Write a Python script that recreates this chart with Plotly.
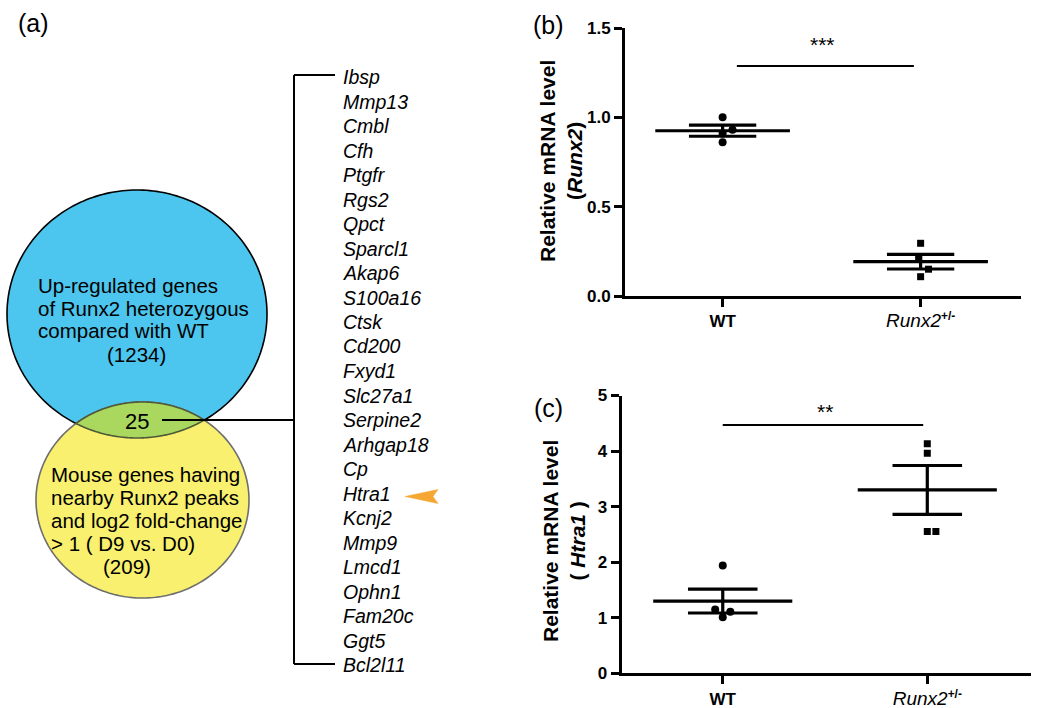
import numpy as np
import plotly.graph_objects as go

W, H = 1050, 708
FONT = "Liberation Sans, Arial, sans-serif"

# ---------------- data ----------------
groups = ["WT", "Runx2+/-"]
group_ticktext = ["<b>WT</b>",
                  "<i><span style='font-size:19px'>Runx2</span></i><sup><b>+/-</b></sup>"]

# panel (b): Runx2 relative mRNA
b_wt = [1.00, 0.93, 0.91, 0.86]
b_ko = [0.295, 0.205, 0.150, 0.108]
b_mean = [0.925, 0.192]
b_sem = [0.031, 0.041]
b_ticks = [0.0, 0.5, 1.0, 1.5]
b_ticktext = ["0.0", "0.5", "1.0", "1.5"]
b_sig_level = 1.288
b_sig_text = "***"

# panel (c): Htra1 relative mRNA
c_wt = [1.94, 1.15, 1.11, 1.01]
c_ko = [4.13, 3.96, 2.55, 2.55]
c_mean = [1.30, 3.30]
c_sem = [0.215, 0.44]
c_ticks = [0, 1, 2, 3, 4, 5]
c_ticktext = ["0", "1", "2", "3", "4", "5"]
c_sig_level = 4.47
c_sig_text = "**"

# panel (a): Venn + gene list
venn_blue_text = ["Up-regulated genes", "of Runx2 heterozygous", "compared with WT"]
venn_blue_count = "(1234)"
venn_yellow_text = ["Mouse genes having", "nearby Runx2 peaks", "and log2 fold-change", "> 1 ( D9 vs. D0)"]
venn_yellow_count = "(209)"
venn_overlap = "25"
genes = ["Ibsp", "Mmp13", "Cmbl", "Cfh", "Ptgfr", "Rgs2", "Qpct", "Sparcl1", "Akap6",
         "S100a16", "Ctsk", "Cd200", "Fxyd1", "Slc27a1", "Serpine2", "Arhgap18", "Cp",
         "Htra1", "Kcnj2", "Mmp9", "Lmcd1", "Ophn1", "Fam20c", "Ggt5", "Bcl2l11"]
highlight_gene = "Htra1"

# point jitter (x offsets in group units)
b_wt_off = [0.0, 0.05, 0.0, 0.0]
b_ko_off = [0.0, -0.01, 0.04, 0.0]
c_wt_off = [0.0, -0.037, 0.037, 0.0]
c_ko_off = [0.0, 0.0, 0.0, 0.042]

# ---------------- helpers ----------------
def px(x):
    return x / W

def py(y):
    return 1 - y / H

fig = go.Figure()

MEAN_HW = 0.34
SEM_HW = 0.17


def add_panel(xa, ya, wt, ko, wt_off, ko_off, mean, sem):
    xs = [1 + o for o in wt_off]
    fig.add_trace(go.Scatter(x=xs, y=wt, mode="markers", xaxis=xa, yaxis=ya,
                             marker=dict(symbol="circle", size=8, color="black"),
                             showlegend=False, hoverinfo="skip"))
    xs = [2 + o for o in ko_off]
    fig.add_trace(go.Scatter(x=xs, y=ko, mode="markers", xaxis=xa, yaxis=ya,
                             marker=dict(symbol="square", size=7, color="black"),
                             showlegend=False, hoverinfo="skip"))
    lx, ly = [], []
    for i, (m, s) in enumerate(zip(mean, sem)):
        g = i + 1
        lx += [g - MEAN_HW, g + MEAN_HW, None, g - SEM_HW, g + SEM_HW, None,
               g - SEM_HW, g + SEM_HW, None, g, g, None]
        ly += [m, m, None, m + s, m + s, None, m - s, m - s, None, m - s, m + s, None]
    fig.add_trace(go.Scatter(x=lx, y=ly, mode="lines", xaxis=xa, yaxis=ya,
                             line=dict(color="black", width=3.2),
                             showlegend=False, hoverinfo="skip"))


add_panel("x", "y", b_wt, b_ko, b_wt_off, b_ko_off, b_mean, b_sem)
add_panel("x2", "y2", c_wt, c_ko, c_wt_off, c_ko_off, c_mean, c_sem)

# significance bars
fig.add_trace(go.Scatter(x=[1.072, 1.966], y=[b_sig_level, b_sig_level], mode="lines",
                         xaxis="x", yaxis="y", line=dict(color="black", width=2),
                         showlegend=False, hoverinfo="skip"))
fig.add_trace(go.Scatter(x=[1.0, 1.98], y=[c_sig_level, c_sig_level], mode="lines",
                         xaxis="x2", yaxis="y2", line=dict(color="black", width=2),
                         showlegend=False, hoverinfo="skip"))

axis_common = dict(showline=True, linewidth=3, linecolor="black", ticks="outside",
                   ticklen=8, tickwidth=3, tickcolor="black", showgrid=False,
                   zeroline=False, fixedrange=True, automargin=False)

tickfont = dict(family=FONT, size=17, color="black")

fig.update_layout(
    width=W, height=H, margin=dict(l=0, r=0, t=0, b=0, autoexpand=False),
    paper_bgcolor="white", plot_bgcolor="white", showlegend=False,
    xaxis=dict(domain=[px(625), px(1021)], range=[0.507, 2.507], anchor="y",
               tickvals=[1, 2], ticktext=group_ticktext, tickfont=tickfont, **axis_common),
    yaxis=dict(domain=[py(296), py(28)], range=[0, 1.5], anchor="x",
               tickvals=b_ticks, ticktext=["<b>%s</b>" % t for t in b_ticktext],
               tickfont=tickfont, **axis_common),
    xaxis2=dict(domain=[px(621.7), px(1031)], range=[0.506, 2.507], anchor="y2",
                tickvals=[1, 2], ticktext=group_ticktext, tickfont=tickfont, **axis_common),
    yaxis2=dict(domain=[py(673.3), py(395.5)], range=[0, 5], anchor="x2",
                tickvals=c_ticks, ticktext=["<b>%s</b>" % t for t in c_ticktext],
                tickfont=tickfont, **axis_common),
)

ann = []


def note(x, y, text, size, xanchor="center", **kw):
    ann.append(dict(x=px(x), y=py(y), xref="paper", yref="paper", text=text,
                    showarrow=False, xanchor=xanchor, yanchor="middle",
                    font=dict(family=FONT, size=size, color="black"), **kw))


# significance stars
ann.append(dict(x=1.506, y=1.405, xref="x", yref="y", text=b_sig_text, showarrow=False,
                xanchor="center", yanchor="middle",
                font=dict(family=FONT, size=21, color="black")))
ann.append(dict(x=1.50, y=4.71, xref="x2", yref="y2", text=c_sig_text, showarrow=False,
                xanchor="center", yanchor="middle",
                font=dict(family=FONT, size=21, color="black")))

# y titles
note(561, 161, "<b>Relative mRNA level</b><br><b>(<i>Runx2</i>)</b>", 21, textangle=-90)
note(564, 541, "<b>Relative mRNA level</b><br><b>( <i>Htra1</i> )</b>", 21, textangle=-90)

# panel labels
for lab, x, y in [("(a)", 33, 23), ("(b)", 548, 25), ("(c)", 548, 408)]:
    note(x, y, lab, 25)

# Venn texts
for i, t in enumerate(venn_blue_text):
    note(36, 285 + i * 23, t, 20.5, xanchor="left")
note(136, 354, venn_blue_count, 20.5)
for i, t in enumerate(venn_yellow_text):
    note(49, 474 + i * 23, t, 20.5, xanchor="left")
note(127, 566, venn_yellow_count, 20.5)
note(137, 421, venn_overlap, 22)

# gene list
G0, GSTEP = 77.0, 24.5
for i, g in enumerate(genes):
    note(341, G0 + i * GSTEP, "<i>%s</i>" % g, 19.5, xanchor="left")

fig.update_layout(annotations=ann)

# ---------------- shapes (Venn, bracket, arrow) ----------------
BC, BR = (137.0, 314.0), (130.0, 124.0)
YC, YR = (142.5, 500.0), (106.5, 98.0)

shapes = []


def to_path(pts):
    return "M " + " L ".join("%.5f,%.5f" % (px(x), py(y)) for x, y in pts) + " Z"


def ellipse_pts(c, r, t0=0.0, t1=2 * np.pi, n=240):
    th = np.linspace(t0, t1, n)
    return [(c[0] + r[0] * np.cos(t), c[1] + r[1] * np.sin(t)) for t in th]


shapes.append(dict(type="path", xref="paper", yref="paper", path=to_path(ellipse_pts(BC, BR)),
                   fillcolor="#4CC6EE", line=dict(color="black", width=1.6)))
shapes.append(dict(type="path", xref="paper", yref="paper", path=to_path(ellipse_pts(YC, YR)),
                   fillcolor="#F8F06E", line=dict(color="#6E6E6E", width=1.6)))


def inside(pt, c, r):
    return ((pt[0] - c[0]) / r[0]) ** 2 + ((pt[1] - c[1]) / r[1]) ** 2 <= 1.0


blue_arc = [p for p in ellipse_pts(BC, BR, 0, np.pi, 400) if inside(p, YC, YR)]
yel_arc = [p for p in ellipse_pts(YC, YR, np.pi, 2 * np.pi, 400) if inside(p, BC, BR)]
shapes.append(dict(type="path", xref="paper", yref="paper", path=to_path(blue_arc + yel_arc),
                   fillcolor="#AAD75E", line=dict(color="#4F5A3A", width=1.6)))

# connector from overlap to bracket
line_k = dict(color="black", width=2)
shapes.append(dict(type="line", xref="paper", yref="paper", x0=px(162), x1=px(294),
                   y0=py(420), y1=py(420), line=line_k))
gy_top = G0 - 2
gy_bot = G0 + (len(genes) - 1) * GSTEP - 1
shapes.append(dict(type="line", xref="paper", yref="paper", x0=px(294), x1=px(294),
                   y0=py(gy_top), y1=py(gy_bot), line=line_k))
shapes.append(dict(type="line", xref="paper", yref="paper", x0=px(294), x1=px(335),
                   y0=py(gy_top), y1=py(gy_top), line=line_k))
shapes.append(dict(type="line", xref="paper", yref="paper", x0=px(294), x1=px(335),
                   y0=py(gy_bot), y1=py(gy_bot), line=line_k))

# orange arrowhead pointing at highlighted gene
hy = G0 + genes.index(highlight_gene) * GSTEP + 3
arrow = [(405, hy), (438, hy - 7), (433, hy), (438, hy + 7)]
shapes.append(dict(type="path", xref="paper", yref="paper", path=to_path(arrow),
                   fillcolor="#F6A733", line=dict(color="#F6A733", width=0.5)))

fig.update_layout(shapes=shapes)

fig.write_html("out.html", config={"displayModeBar": False},
               post_script="document.body.style.margin='0px';document.body.style.overflow='hidden';")
